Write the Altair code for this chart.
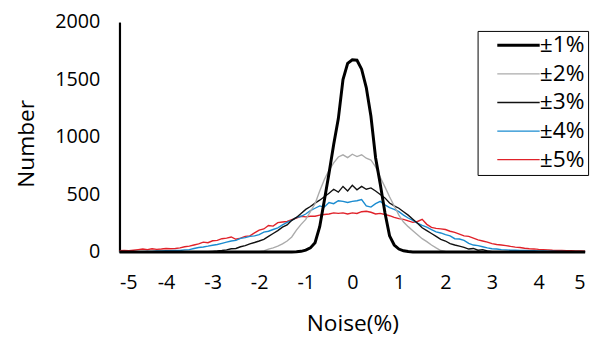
import altair as alt
import pandas as pd

x_vals = [round(-5 + 0.1 * i, 1) for i in range(101)]

s1 = [0] * 38 + [2, 5, 15, 35, 80, 220, 450, 684, 935, 1160, 1500, 1640, 1672,
                 1668, 1590, 1430, 1180, 820, 590, 343, 140, 60, 25, 10, 3] + [0] * 38

s2 = [0] * 30 + [3, 8, 25, 35, 50, 70, 95, 130, 190, 240, 283, 350, 420, 530, 630, 710,
                 775, 826, 845, 820, 850, 830, 845, 815, 800, 740, 650, 566, 480, 400,
                 320, 260, 220, 185, 150, 115, 90, 60, 35, 12, 4] + [0] * 30

s3 = [0] * 18 + [0, 2, 5, 8, 12, 18, 28, 30, 45, 55,
                 70, 82, 95, 110, 135, 160, 185, 215, 235, 275,
                 300, 335, 370, 395, 425, 450, 480, 510, 545, 520,
                 570, 530, 580, 540, 570, 545, 557, 530, 500, 470,
                 425, 400, 380, 350, 320, 285, 250, 210, 185, 160,
                 135, 110, 95, 72, 60, 50, 40, 25, 30, 15,
                 20, 8, 3, 0, 0] + [0] * 18

s4 = [0, 0, 2, 2, 3, 3, 5, 5, 8, 8,
      10, 10, 12, 12, 18, 20, 30, 38, 43, 50,
      58, 65, 75, 85, 95, 100, 118, 125, 135, 140,
      150, 172, 180, 195, 210, 235, 257, 275, 300, 310,
      330, 360, 380, 400, 390, 429, 420, 445, 440, 430,
      440,
      445, 455, 400, 390, 420, 440, 410, 386, 370, 350,
      320, 295, 275, 250, 230, 215, 195, 175, 165, 150,
      140, 115, 112, 100, 75, 60, 55, 45, 35, 28,
      25, 20, 18, 15, 15, 12, 12, 10, 10, 8,
      8, 6, 6, 5, 4, 3, 3, 2, 2, 2]

s5 = [10, 12, 10, 15, 20, 25, 20, 28, 22, 25,
      30, 28, 30, 35, 45, 50, 60, 70, 85, 80,
      97, 100, 115, 120, 130, 110, 120, 135, 140, 165,
      190, 200, 230, 225, 255, 260, 265, 280, 295, 310,
      305, 310, 310, 320, 326, 330, 340, 335, 340, 330,
      340,
      335, 350, 354, 345, 330, 335, 326, 315, 300, 290,
      283, 270, 257, 265, 283, 240, 214, 205, 200, 195,
      180, 170, 155, 140, 135, 120, 105, 95, 85, 72,
      65, 60, 55, 48, 42, 38, 32, 28, 26, 22,
      20, 18, 15, 14, 12, 10, 10, 8, 8, 6]

series_names = ["±1%", "±2%", "±3%", "±4%", "±5%"]
series_values = [s1, s2, s3, s4, s5]
colors = ["#000000", "#ababab", "#111111", "#1a8bd0", "#e0222a"]
widths = [3.0, 1.4, 1.4, 1.4, 1.4]
x_ticks = [-5, -4, -3, -2, -1, 0, 1, 2, 3, 4, 5]
y_ticks = [0, 500, 1000, 1500, 2000]

rows = []
# draw ±5% first so ±1% ends on top
for name, vals, w in reversed(list(zip(series_names, series_values, widths))):
    for xv, yv in zip(x_vals, vals):
        rows.append({"noise": xv, "count": yv, "series": name, "w": w})
df = pd.DataFrame(rows)

FONT = "Open Sans"

legend = alt.Legend(
    orient="none", legendX=363, legendY=9, title=None,
    strokeColor="black", padding=3, fillColor="white",
    symbolType="M0.39,0H3.46", symbolSize=784, labelFontSize=23, labelFont=FONT,
    labelColor="black", rowPadding=5, labelOffset=37,
    symbolStrokeWidth=alt.ExprRef(expr="datum.value === '±1%' ? 3.0 : 1.4"),
)

chart = alt.Chart(df).mark_line(interpolate="linear").encode(
    x=alt.X("noise:Q", scale=alt.Scale(domain=[-5, 5], nice=False),
            axis=alt.Axis(values=x_ticks, title="Noise(%)", domain=False, ticks=False,
                          grid=False, labelFontSize=20, labelFont=FONT, labelColor="black",
                          labelExpr="'' + datum.value",
                          labelPadding=21, titleFontSize=23, titleFont=FONT,
                          titleFontWeight="normal", titleColor="black", titlePadding=21)),
    y=alt.Y("count:Q", scale=alt.Scale(domain=[0, 2000], nice=False),
            axis=alt.Axis(values=y_ticks, title="Number", domain=True, domainColor="black",
                          domainWidth=2.2, ticks=False, grid=False, labelFontSize=20,
                          format="d",
                          labelFont=FONT, labelColor="black", labelPadding=20,
                          titleFontSize=23, titleFont=FONT, titleFontWeight="normal",
                          titleColor="black", titlePadding=16, titleY=123)),
    color=alt.Color("series:N", scale=alt.Scale(domain=series_names, range=colors),
                    legend=legend),
    strokeWidth=alt.StrokeWidth("w:Q", scale=None),
).properties(
    width=472, height=233,
    autosize=alt.AutoSizeParams(type="none"),
    padding={"left": 113, "top": 12, "right": 10, "bottom": 85},
).configure_view(stroke=None)

chart.save("out.html", embed_options={"renderer": "svg", "actions": False})
